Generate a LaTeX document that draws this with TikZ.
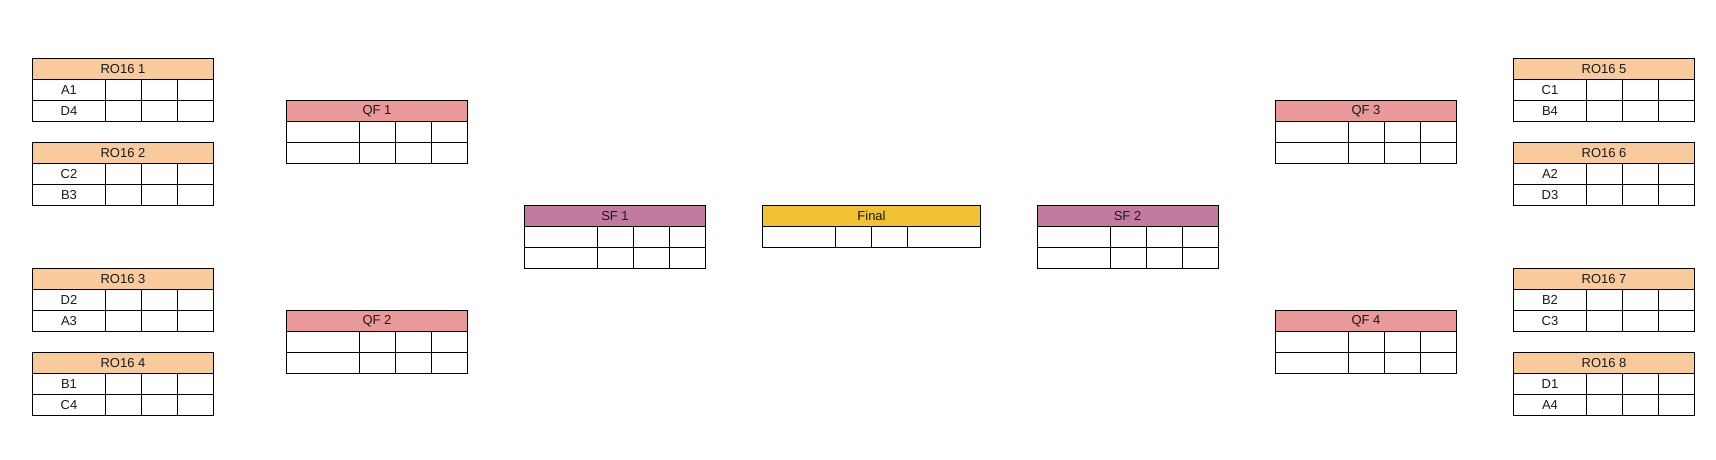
\documentclass[tikz,border=0pt]{standalone}
\usepackage{fontspec}
\setmainfont{Liberation Sans}
\definecolor{ro16c}{HTML}{F9CB9C}
\definecolor{qfc}{HTML}{EA9999}
\definecolor{sfc}{HTML}{C27BA0}
\definecolor{finc}{HTML}{F1C232}
\tikzset{
  base/.style={draw=black, line width=1pt, inner sep=0pt, outer sep=0pt, minimum height=21pt,
    font=\fontsize{13}{15}\selectfont, text=black!90, anchor=north west},
  hdr/.style={base, minimum width=181pt},
  hdrwide/.style={base, minimum width=218pt},
  cellw/.style={base, minimum width=73pt},
  cell/.style={base, minimum width=36pt}
}
\newcommand{\matchbox}[7]{%
  \node[hdr, fill=#4] (#1-h) at (#2,#3) {#5};
  \node[cellw] (#1-a1) at (#2,#3+21) {#6};
  \node[cell] (#1-a2) at (#2+73,#3+21) {};
  \node[cell] (#1-a3) at (#2+109,#3+21) {};
  \node[cell] (#1-a4) at (#2+145,#3+21) {};
  \node[cellw] (#1-b1) at (#2,#3+42) {#7};
  \node[cell] (#1-b2) at (#2+73,#3+42) {};
  \node[cell] (#1-b3) at (#2+109,#3+42) {};
  \node[cell] (#1-b4) at (#2+145,#3+42) {};
}
\begin{document}
\begin{tikzpicture}[x=1pt, y=-1pt]
\useasboundingbox (0,0) rectangle (1716,459);
% Left RO16
\matchbox{r1}{32.5}{58.5}{ro16c}{RO16 1}{A1}{D4}
\matchbox{r2}{32.5}{142.5}{ro16c}{RO16 2}{C2}{B3}
\matchbox{r3}{32.5}{268.5}{ro16c}{RO16 3}{D2}{A3}
\matchbox{r4}{32.5}{352.5}{ro16c}{RO16 4}{B1}{C4}
% Left QF
\matchbox{q1}{286.5}{100.5}{qfc}{QF 1}{}{}
\matchbox{q2}{286.5}{310.5}{qfc}{QF 2}{}{}
% SF
\matchbox{s1}{524.5}{205.5}{sfc}{SF 1}{}{}
\matchbox{s2}{1037}{205.5}{sfc}{SF 2}{}{}
% Right QF
\matchbox{q3}{1275.5}{100.5}{qfc}{QF 3}{}{}
\matchbox{q4}{1275.5}{310.5}{qfc}{QF 4}{}{}
% Right RO16
\matchbox{r5}{1513.5}{58.5}{ro16c}{RO16 5}{C1}{B4}
\matchbox{r6}{1513.5}{142.5}{ro16c}{RO16 6}{A2}{D3}
\matchbox{r7}{1513.5}{268.5}{ro16c}{RO16 7}{B2}{C3}
\matchbox{r8}{1513.5}{352.5}{ro16c}{RO16 8}{D1}{A4}
% Final
\node[hdrwide, fill=finc] (f-h) at (762.5,205.5) {Final};
\node[cellw] (f-a1) at (762.5,226.5) {};
\node[cell] (f-a2) at (835.5,226.5) {};
\node[cell] (f-a3) at (871.5,226.5) {};
\node[cellw] (f-a4) at (907.5,226.5) {};
\end{tikzpicture}
\end{document}
